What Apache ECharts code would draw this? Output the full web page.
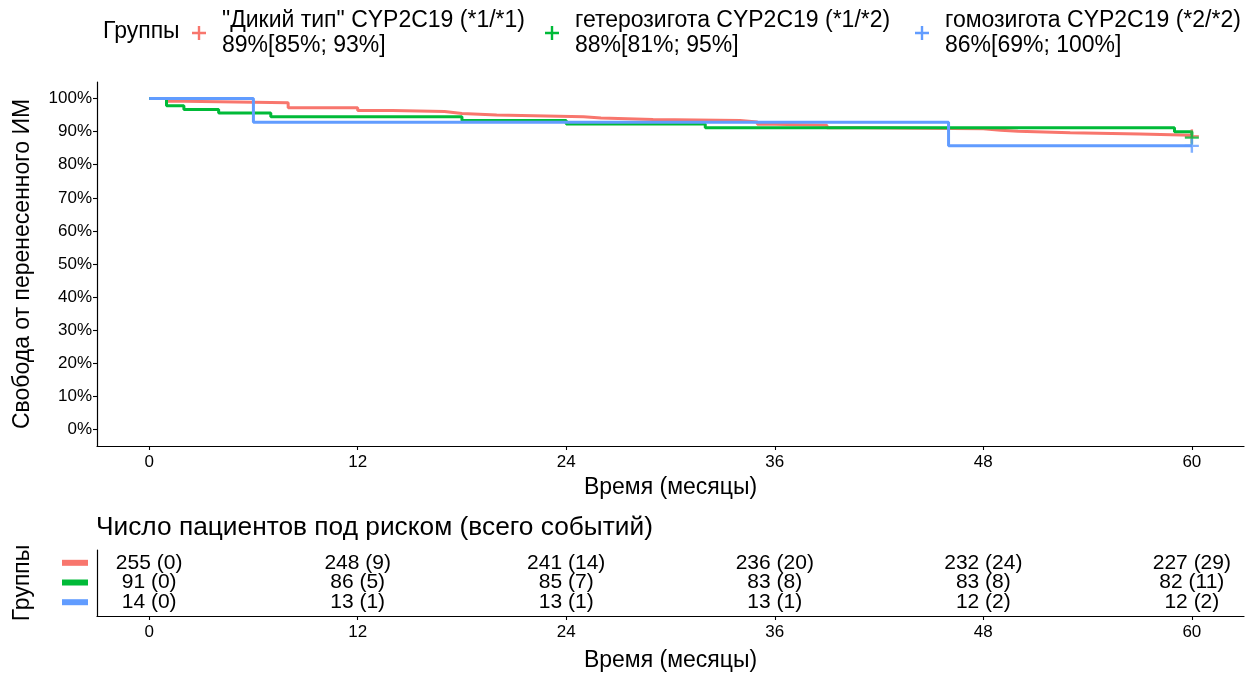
<!DOCTYPE html>
<html><head><meta charset="utf-8">
<script src="https://cdn.jsdelivr.net/npm/echarts@6/dist/echarts.min.js"></script>
<style>html,body{margin:0;padding:0;background:#fff}#c{width:1253px;height:673px}</style>
</head><body><div id="c"></div>
<script>
// ---- data ----
const groupNames = ['"Дикий тип" CYP2C19 (*1/*1)', 'гетерозигота CYP2C19 (*1/*2)', 'гомозигота CYP2C19 (*2/*2)'];
const groupCI = ['89%[85%; 93%]', '88%[81%; 95%]', '86%[69%; 100%]'];
const wildTimes = [0, 1, 2, 8, 12, 14, 17, 18, 20, 25, 26, 29, 34, 35, 36, 39, 41, 48, 49, 50, 53, 57, 60];
const wildSurv  = [100, 99.2, 98.7, 97.2, 96.4, 96.1, 95.5, 95.0, 94.5, 94.1, 93.7, 93.4, 92.9, 92.2, 91.9, 91.2, 90.9, 90.4, 90.1, 89.7, 89.3, 88.9, 88.6];
const hetTimes  = [0, 1, 2, 4, 7, 18, 24, 32, 59, 60];
const hetSurv   = [100, 97.8, 96.7, 95.6, 94.5, 93.4, 92.3, 91.2, 90.0, 88.2];
const homTimes  = [0, 6, 46, 60];
const homSurv   = [100, 92.86, 85.7, 85.7];
const xTicks = [0, 12, 24, 36, 48, 60];
const yTicks = [0, 10, 20, 30, 40, 50, 60, 70, 80, 90, 100];
const riskWild = ['255 (0)', '248 (9)', '241 (14)', '236 (20)', '232 (24)', '227 (29)'];
const riskHet  = ['91 (0)', '86 (5)', '85 (7)', '83 (8)', '83 (8)', '82 (11)'];
const riskHom  = ['14 (0)', '13 (1)', '13 (1)', '13 (1)', '12 (2)', '12 (2)'];

// ---- styling ----
const colors = ['#F8766D', '#00BA38', '#619CFF'];
const FONT = 'Liberation Sans';
const PLUS = 'path://M5.8,0 h2.4 v5.8 h5.8 v2.4 h-5.8 v5.8 h-2.4 v-5.8 h-5.8 v-2.4 h5.8 z';

const times = [wildTimes, hetTimes, homTimes];
const survs = [wildSurv, hetSurv, homSurv];
const risks = [riskWild, riskHet, riskHom];

const series = [];
for (let g = 0; g < 3; g++) {
  const d = times[g].map((t, i) => [t, survs[g][i]]);
  series.push({
    name: groupNames[g], type: 'line', step: 'end', data: d,
    xAxisIndex: 0, yAxisIndex: 0, symbol: 'none',
    lineStyle: { color: colors[g], width: 3 }, itemStyle: { color: colors[g] },
    z: 2 + g, silent: true, animation: false
  });
}
for (let g = 0; g < 3; g++) {
  const last = times[g].length - 1;
  series.push({
    name: groupNames[g], type: 'scatter', data: [[times[g][last], survs[g][last]]],
    xAxisIndex: 0, yAxisIndex: 0, symbol: PLUS, symbolSize: 14,
    itemStyle: { color: colors[g] }, z: 6, silent: true, animation: false
  });
}
for (let g = 0; g < 3; g++) {
  series.push({
    type: 'scatter', xAxisIndex: 1, yAxisIndex: 1,
    data: xTicks.map((t, i) => [t, g + 1, risks[g][i]]),
    symbolSize: 1, itemStyle: { color: '#ffffff' },
    label: { show: true, position: 'inside', formatter: p => p.value[2],
      color: '#000000', fontSize: 21, fontFamily: FONT, textBorderWidth: 0, opacity: 1 },
    silent: true, animation: false
  });
}

const axisLineStyle = { show: true, onZero: false, lineStyle: { color: '#000', width: 1.2 } };
const tickStyle = { show: true, length: 4, lineStyle: { color: '#000', width: 1.1 } };

const legends = [187, 540, 910].map((left, g) => ({
  data: [groupNames[g]], left: left, top: 3, orient: 'horizontal',
  icon: PLUS, itemWidth: 36, itemHeight: 14, selectedMode: false,
  formatter: n => n + '\n' + groupCI[g],
  textStyle: { fontSize: 23, lineHeight: 25, color: '#000', fontFamily: FONT }
}));

function xAxisDef(grid, gap) {
  return {
    type: 'value', gridIndex: grid, min: -3, max: 63,
    name: 'Время (месяцы)', nameLocation: 'middle', nameGap: gap,
    nameTextStyle: { fontSize: 23, color: '#000', fontFamily: FONT },
    axisLine: axisLineStyle, splitLine: { show: false },
    axisTick: Object.assign({}, tickStyle, { customValues: xTicks }),
    axisLabel: { customValues: xTicks, fontSize: 17, color: '#000', margin: 8, fontFamily: FONT }
  };
}

const option = {
  backgroundColor: '#fff',
  animation: false,
  textStyle: { fontFamily: FONT },
  legend: legends,
  title: {
    text: 'Число пациентов под риском (всего событий)', left: 91, top: 510,
    textStyle: { fontSize: 26.3, fontWeight: 'normal', color: '#000', fontFamily: FONT }
  },
  graphic: [{
    type: 'text', left: 103, top: 20,
    style: { text: 'Группы', fontSize: 23, fontFamily: FONT, fill: '#000' }
  }],
  grid: [
    { left: 97, right: 9, top: 82, height: 364 },
    { left: 97, right: 9, top: 550, height: 67 }
  ],
  xAxis: [xAxisDef(0, 30), xAxisDef(1, 33)],
  yAxis: [
    {
      type: 'value', gridIndex: 0, min: -5, max: 105,
      name: 'Свобода от перенесенного ИМ', nameLocation: 'middle', nameRotate: 90, nameGap: 63,
      nameTextStyle: { fontSize: 23, color: '#000', fontFamily: FONT },
      axisLine: axisLineStyle, splitLine: { show: false },
      axisTick: Object.assign({}, tickStyle, { customValues: yTicks }),
      axisLabel: { customValues: yTicks, formatter: v => v + '%', fontSize: 17, color: '#000', margin: 5, fontFamily: FONT }
    },
    {
      type: 'value', gridIndex: 1, min: 0.35, max: 3.7, inverse: true,
      name: 'Группы', nameLocation: 'middle', nameRotate: 90, nameGap: 63,
      nameTextStyle: { fontSize: 23, color: '#000', fontFamily: FONT },
      axisLine: axisLineStyle, splitLine: { show: false },
      axisTick: { show: false },
      axisLabel: {
        customValues: [1, 2, 3], margin: 9,
        formatter: v => '{s' + v + '|}',
        rich: {
          s1: { backgroundColor: colors[0], width: 26, height: 6 },
          s2: { backgroundColor: colors[1], width: 26, height: 6 },
          s3: { backgroundColor: colors[2], width: 26, height: 6 }
        }
      }
    }
  ],
  series: series
};

const chart = echarts.init(document.getElementById('c'), null, { renderer: 'canvas' });
chart.setOption(option);
</script>
</body></html>
